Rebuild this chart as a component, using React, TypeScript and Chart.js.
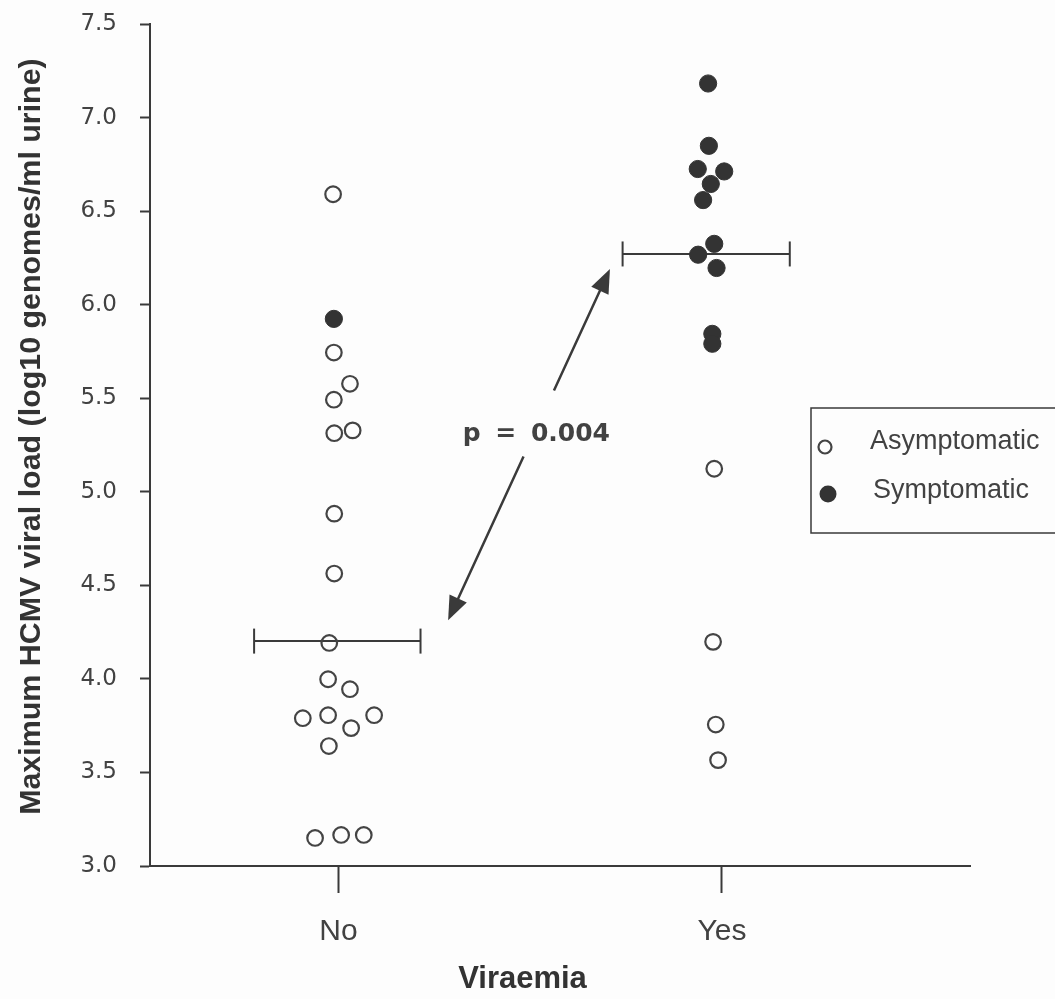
import React, { useEffect, useRef } from "react";
import { Chart, registerables } from "chart.js";

Chart.register(...registerables);

// ---------------- data ----------------
const categories = ["No", "Yes"];
const categoryValues = [1, 2];
const xAxisTitle = "Viraemia";
const yAxisTitle = "Maximum HCMV viral load (log10 genomes/ml urine)";
const yMin = 3.0;
const yMax = 7.5;
const yStep = 0.5;
const xMin = 0.5085;
const xMax = 2.647;
const seriesNames = ["Asymptomatic", "Symptomatic"];

// Viraemia = No
const noAsymX = [0.986, 0.988, 1.03, 0.988, 0.989, 1.037, 0.989, 0.989, 0.976, 0.973, 1.03, 0.907, 0.973, 1.033, 1.093, 0.975, 0.939, 1.007, 1.066];
const noAsymY = [6.59, 5.744, 5.577, 5.492, 5.313, 5.328, 4.883, 4.563, 4.192, 3.998, 3.945, 3.79, 3.806, 3.737, 3.806, 3.641, 3.15, 3.166, 3.166];
const noSymX = [0.988];
const noSymY = [5.924];

// Viraemia = Yes
const yesAsymX = [1.98, 1.977, 1.984, 1.99];
const yesAsymY = [5.123, 4.198, 3.756, 3.566];
const yesSymX = [1.964, 1.966, 1.937, 2.006, 1.971, 1.951, 1.98, 1.938, 1.986, 1.975, 1.975];
const yesSymY = [7.182, 6.849, 6.725, 6.712, 6.645, 6.559, 6.325, 6.267, 6.196, 5.844, 5.791];

// medians
const medianValues = [4.202, 6.271];
const medianStarts = [0.78, 1.741];
const medianEnds = [1.214, 2.177];

// annotation
const pValueText = "p = 0.004";
const pValueAt = [1.516, 5.307];
const arrowFrom = [1.286, 4.313];
const arrowTo = [1.708, 6.191];
const arrowGap = [0.466, 0.654];
const xTitleAt = 1.48;
const yTitleAt = 5.295;

// ---------------- styles ----------------
const INK = "#3a3a3a";
const TEXT = "#424242";

const zip = (xs: number[], ys: number[]) => xs.map((x, i) => ({ x, y: ys[i] }));

const overlayPlugin = {
  id: "overlay",
  afterDraw(chart: any) {
    const { ctx, chartArea } = chart;
    const xs = chart.scales.x;
    const ys = chart.scales.y;
    const px = (v: number) => xs.getPixelForValue(v);
    const py = (v: number) => ys.getPixelForValue(v);

    ctx.save();
    // ---- arrow ----
    const x0 = px(arrowFrom[0]);
    const y0 = py(arrowFrom[1]);
    const x1 = px(arrowTo[0]);
    const y1 = py(arrowTo[1]);
    const dx = x1 - x0;
    const dy = y1 - y0;
    const len = Math.hypot(dx, dy);
    const ux = dx / len;
    const uy = dy / len;
    ctx.strokeStyle = INK;
    ctx.fillStyle = INK;
    ctx.lineWidth = 2.5;
    ctx.lineCap = "butt";
    ctx.beginPath();
    ctx.moveTo(x0 + ux * 10, y0 + uy * 10);
    ctx.lineTo(x0 + dx * arrowGap[0], y0 + dy * arrowGap[0]);
    ctx.moveTo(x0 + dx * arrowGap[1], y0 + dy * arrowGap[1]);
    ctx.lineTo(x1 - ux * 10, y1 - uy * 10);
    ctx.stroke();
    const head = (tx: number, ty: number, dirx: number, diry: number) => {
      const hl = 24;
      const hw = 9.5;
      const bx = tx - dirx * hl;
      const by = ty - diry * hl;
      ctx.beginPath();
      ctx.moveTo(tx, ty);
      ctx.lineTo(bx - diry * hw, by + dirx * hw);
      ctx.lineTo(bx + diry * hw, by - dirx * hw);
      ctx.closePath();
      ctx.fill();
    };
    head(x1, y1, ux, uy);
    head(x0, y0, -ux, -uy);

    // ---- p value ----
    ctx.font = "bold 25px 'DejaVu Sans'";
    ctx.textAlign = "center";
    ctx.textBaseline = "middle";
    try {
      (ctx as any).wordSpacing = "6px";
    } catch (e) {}
    ctx.fillStyle = TEXT;
    ctx.fillText(pValueText, px(pValueAt[0]), py(pValueAt[1]));
    try {
      (ctx as any).wordSpacing = "0px";
    } catch (e) {}

    // ---- axis titles ----
    ctx.fillStyle = "#333";
    ctx.font = "bold 31px 'Liberation Sans'";
    ctx.textAlign = "center";
    ctx.textBaseline = "alphabetic";
    ctx.fillText(xAxisTitle, px(xTitleAt), chartArea.bottom + 122);

    ctx.save();
    ctx.translate(40, py(yTitleAt));
    ctx.rotate(-Math.PI / 2);
    ctx.font = "bold 30.4px 'Liberation Sans'";
    ctx.textAlign = "center";
    ctx.textBaseline = "alphabetic";
    ctx.fillText(yAxisTitle, 0, 0);
    ctx.restore();

    // ---- legend ----
    const lx = 811;
    const ly = 408;
    const lb = 533;
    ctx.strokeStyle = INK;
    ctx.lineWidth = 1.5;
    ctx.beginPath();
    ctx.moveTo(1070, ly);
    ctx.lineTo(lx, ly);
    ctx.lineTo(lx, lb);
    ctx.lineTo(1070, lb);
    ctx.stroke();

    const ds = chart.data.datasets;
    // Asymptomatic marker
    ctx.beginPath();
    ctx.arc(825, 447, 6.5, 0, Math.PI * 2);
    ctx.lineWidth = 2.2;
    ctx.strokeStyle = ds[0].borderColor;
    ctx.stroke();
    // Symptomatic marker
    ctx.beginPath();
    ctx.arc(828, 494, 8.5, 0, Math.PI * 2);
    ctx.fillStyle = ds[1].backgroundColor;
    ctx.fill();

    ctx.fillStyle = TEXT;
    ctx.font = "27px 'Liberation Sans'";
    ctx.textAlign = "left";
    ctx.textBaseline = "alphabetic";
    ctx.fillText(ds[0].label, 870, 449);
    ctx.fillText(ds[1].label, 873, 498);
    ctx.restore();
  },
};

export default function App() {
  const ref = useRef<HTMLCanvasElement | null>(null);

  useEffect(() => {
    if (!ref.current) return;
    const medianSets = medianValues.map((v, i) => ({
      type: "line" as const,
      label: "median",
      data: [
        { x: medianStarts[i], y: v },
        { x: medianEnds[i], y: v },
      ],
      borderColor: INK,
      borderWidth: 2,
      showLine: true,
      fill: false,
      pointStyle: "line" as const,
      pointRadius: 12.5,
      pointHoverRadius: 12.5,
      pointRotation: 90,
      pointBorderWidth: 2,
      pointBorderColor: INK,
      pointBackgroundColor: INK,
    }));

    const chart = new Chart(ref.current, {
      type: "scatter",
      data: {
        datasets: [
          {
            label: seriesNames[0],
            data: [...zip(noAsymX, noAsymY), ...zip(yesAsymX, yesAsymY)],
            pointRadius: 7.8,
            pointHoverRadius: 7.8,
            borderWidth: 2.2,
            pointBorderWidth: 2.2,
            borderColor: "#444",
            backgroundColor: "rgba(255,255,255,0)",
          },
          {
            label: seriesNames[1],
            data: [...zip(noSymX, noSymY), ...zip(yesSymX, yesSymY)],
            pointRadius: 8.6,
            pointHoverRadius: 8.6,
            borderWidth: 1,
            pointBorderWidth: 1,
            borderColor: "#333",
            backgroundColor: "#333",
          },
          ...medianSets,
        ] as any,
      },
      options: {
        animation: false,
        responsive: true,
        maintainAspectRatio: false,
        events: [],
        layout: { padding: { top: 24, right: 85, bottom: 0, left: 0 } },
        plugins: {
          legend: { display: false },
          tooltip: { enabled: false },
        },
        scales: {
          x: {
            type: "linear",
            min: xMin,
            max: xMax,
            afterBuildTicks: (s: any) => {
              s.ticks = categoryValues.map((v) => ({ value: v }));
            },
            afterFit: (s: any) => {
              s.height = 133;
            },
            ticks: {
              callback: (_v: any, i: number) => categories[i] ?? "",
              font: { family: "'Liberation Sans'", size: 30 },
              color: TEXT,
              padding: 21,
              maxRotation: 0,
              autoSkip: false,
            },
            grid: {
              drawOnChartArea: false,
              drawTicks: true,
              tickLength: 27,
              tickWidth: 2,
              tickColor: INK,
            },
            border: { display: true, color: INK, width: 2 },
          },
          y: {
            type: "linear",
            min: yMin,
            max: yMax,
            afterFit: (s: any) => {
              s.width = 150;
              s.paddingTop = 14;
              s.paddingBottom = 14;
            },
            ticks: {
              stepSize: yStep,
              callback: (v: any) => Number(v).toFixed(1),
              font: { family: "'DejaVu Sans'", size: 23 },
              color: TEXT,
              padding: 23,
            },
            grid: {
              drawOnChartArea: false,
              drawTicks: true,
              tickLength: 10,
              tickWidth: 2,
              tickColor: INK,
            },
            border: { display: true, color: INK, width: 2 },
          },
        },
      },
      plugins: [overlayPlugin],
    });
    return () => chart.destroy();
  }, []);

  return (
    <div style={{ position: "fixed", left: 0, top: 0, width: 1055, height: 999, background: "#fdfdfd" }}>
      <canvas ref={ref} />
    </div>
  );
}
